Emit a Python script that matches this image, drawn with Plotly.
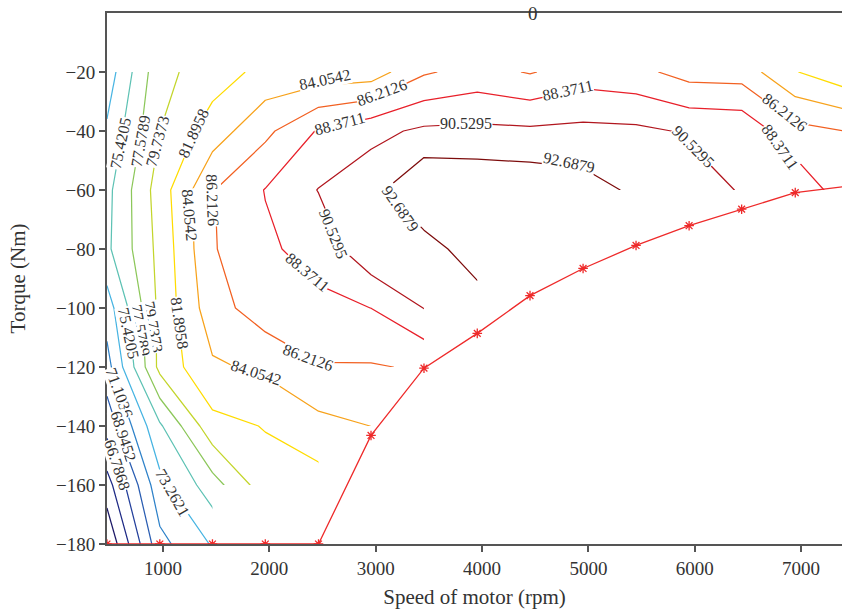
import plotly.graph_objects as go

# ---------------- data ----------------
speed_rpm = [473, 970, 1465, 1962, 2462, 2956, 3454, 3955, 4451, 4950, 5448, 5947, 6441, 6945, 7437]
torque_nm = [-20, -40, -60, -80, -100, -120, -140, -160, -180]

N = None
efficiency = [
    [72.06, 79.10, 80.83, 82.55, 82.70, 82.90, 85.95, 87.00, 86.05, 87.30, 86.83, 85.36, 85.25, 82.00, 80.26],
    [73.57, 79.73, 82.95, 85.69, 88.57, 89.90, 90.93, 91.03, 90.91, 91.10, 90.98, 90.30, 90.05, 86.90, 86.17],
    [74.80, 80.80, 86.10, 88.45, 90.60, 91.93, 94.84, 94.50, 94.27, 93.62, 92.29, 91.40, 90.39, 90.10, 86.95],
    [75.00, 80.40, 86.03, 88.01, 89.16, 92.20, 91.68, 93.92, 94.00, 93.30, N, N, N, N, N],
    [72.20, 80.30, 85.30, 87.40, 87.86, 88.38, 90.57, 91.60, N, N, N, N, N, N, N],
    [70.26, 80.37, 83.75, 84.47, 86.07, 86.05, 86.44, N, N, N, N, N, N, N, N],
    [67.60, 75.10, 81.20, 82.00, 83.38, 84.07, N, N, N, N, N, N, N, N, N],
    [63.70, 72.62, 76.62, 81.00, 80.95, N, N, N, N, N, N, N, N, N, N],
    [60.55, 70.45, 73.45, N, N, N, N, N, N, N, N, N, N, N, N],
]

# torque limit curve (red, star markers)
limit_speed = speed_rpm
limit_torque = [-180, -180, -180, -180, -180, -143.2, -120.4, -108.6, -95.8, -86.6,
                -78.8, -72.1, -66.5, -60.9, -58.7]

# contour levels
level_first = 62.469924
level_step = 2.158428
level_count = 15
level_colors = ["#1b1766", "#1f2b86", "#24409c", "#2a5db2", "#2f82c9", "#47b4e2",
                "#5ec2b4", "#8cc75a", "#c3d52c", "#ffdc00", "#f7a21b", "#f26122",
                "#e8202a", "#b1161e", "#7d0c0c"]

# inline contour labels: level index, speed, torque, text angle
label_level = [6, 7, 8, 9, 10, 11, 10, 11, 12, 12, 13, 14, 13, 11, 12,
               14, 13, 12, 11, 10, 9, 8, 7, 6, 4, 3, 2, 5]
label_speed = [596, 784, 944, 1282, 1254, 1470, 2523, 3059, 2664, 4799, 3849, 4818, 5984, 6849, 6802,
               3229, 2599, 2363, 2363, 1874, 1160, 906, 793, 680, 586, 633, 567, 1085]
label_torque = [-44.1, -43.4, -43.4, -40.7, -68.5, -63.4, -22.7, -27.1, -37.6, -26.1, -37.6, -50.8,
                -45.4, -33.6, -45.1, -66.4, -74.9, -87.8, -116.9, -122.0, -105.1, -106.4, -107.5,
                -108.5, -128.8, -143.4, -153.2, -162.7]
label_angle = [-78, -80, -75, -65, 85, 88, -12, -20, -15, -12, 0, 12, 45, 38, 55,
               55, 68, 40, 20, 18, 82, 80, 80, 78, 70, 72, 72, 60]

x_range = [473.4, 7384.6]
y_range = [-180, 0]
x_ticks = [1000, 2000, 3000, 4000, 5000, 6000, 7000]
y_ticks = [-180, -160, -140, -120, -100, -80, -60, -40, -20]

SERIF = "Liberation Serif, Times New Roman, serif"
TXT = "#333333"
AX = "#555555"
RED = "#ee2a2a"

levels = [level_first + k * level_step for k in range(level_count)]

fig = go.Figure()

cs = [[k / (level_count - 1), level_colors[k]] for k in range(level_count)]
fig.add_trace(go.Contour(
    x=speed_rpm, y=torque_nm, z=efficiency,
    autocontour=False,
    contours=dict(start=levels[0], end=levels[-1], size=level_step,
                  coloring="lines", showlabels=False),
    colorscale=cs, showscale=False,
    line=dict(width=1.25, smoothing=0),
    hoverinfo="skip",
))

# white mask over grid cells that have a missing corner
deepest = []
for j in range(len(speed_rpm)):
    valid = [torque_nm[i] for i in range(len(torque_nm)) if efficiency[i][j] is not None]
    deepest.append(min(valid))
mx, my = [], []
for j in range(len(speed_rpm) - 1):
    b = max(deepest[j], deepest[j + 1])
    mx += [speed_rpm[j], speed_rpm[j + 1]]
    my += [b, b]
mx += [speed_rpm[-1] + 200, speed_rpm[-1] + 200, speed_rpm[0]]
my += [my[-1], -200, -200]
fig.add_trace(go.Scatter(x=mx, y=my, fill="toself", fillcolor="white",
                         mode="lines", line=dict(width=0, color="white"),
                         hoverinfo="skip", showlegend=False))

fig.add_trace(go.Scatter(
    x=limit_speed, y=limit_torque, mode="lines+markers",
    line=dict(color=RED, width=1.3),
    marker=dict(symbol="asterisk-open", size=8, color=RED,
                line=dict(color=RED, width=1.3)),
    hoverinfo="skip", showlegend=False))

for k, sx, ty, ang in zip(label_level, label_speed, label_torque, label_angle):
    fig.add_annotation(x=sx, y=ty, xref="x", yref="y", text=f"{levels[k]:.4f}",
                       textangle=ang, showarrow=False, bgcolor="white", borderpad=0,
                       xanchor="center", yanchor="middle",
                       font=dict(family=SERIF, size=16, color=TXT))

fig.add_annotation(x=4477, y=1, xref="x", yref="paper", text="0",
                   showarrow=False, xanchor="center", yanchor="middle",
                   font=dict(family=SERIF, size=19, color=TXT))

fig.update_layout(
    width=842, height=616,
    margin=dict(l=107, r=0, t=13, b=72),
    paper_bgcolor="white", plot_bgcolor="white",
    showlegend=False,
    font=dict(family=SERIF, color=TXT),
)
fig.update_xaxes(
    range=x_range, tickvals=x_ticks, ticks="outside", ticklen=6, tickwidth=1.5,
    tickcolor=AX, showline=True, linecolor=AX, linewidth=1.8, mirror=True,
    showgrid=False, zeroline=False,
    tickfont=dict(family=SERIF, size=19, color=TXT),
    title=dict(text="Speed of motor (rpm)", standoff=12,
               font=dict(family=SERIF, size=21, color=TXT)),
)
fig.update_yaxes(
    range=y_range, tickvals=y_ticks, ticks="outside", ticklen=6, tickwidth=1.5,
    tickcolor=AX, showline=True, linecolor=AX, linewidth=1.8,
    showgrid=False, zeroline=False,
    tickfont=dict(family=SERIF, size=19, color=TXT),
    title=dict(text="Torque (Nm)", standoff=25,
               font=dict(family=SERIF, size=21, color=TXT)),
)

fig.write_html("out.html")
